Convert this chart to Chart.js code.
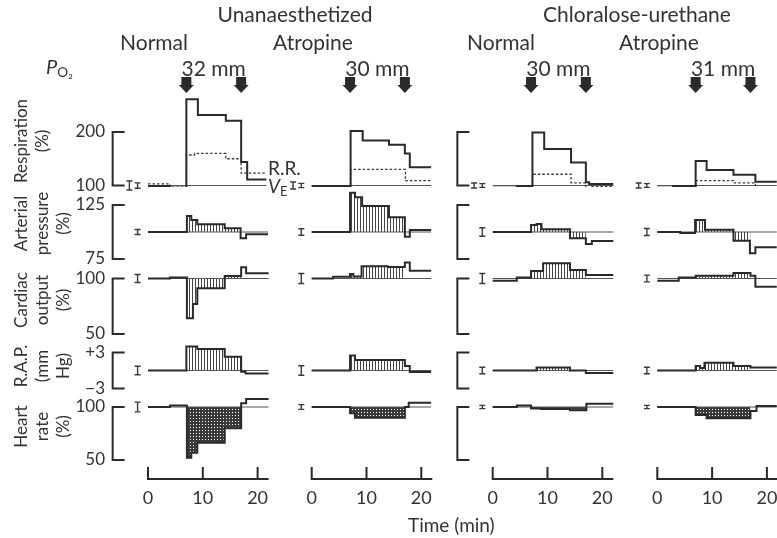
<!DOCTYPE html>
<html><head><meta charset="utf-8">
<script src="https://cdn.jsdelivr.net/npm/chart.js@4.4.1/dist/chart.umd.min.js"></script>
<style>
html,body{margin:0;padding:0;background:#fff;}
#wrap{position:relative;width:777px;height:538px;overflow:hidden;font-family:Lato,"DejaVu Sans",sans-serif;color:#333;}
#c{position:absolute;left:0;top:0;}
.lbl{position:absolute;white-space:nowrap;line-height:1;}
.lbl sub{font-size:0.68em;vertical-align:-0.25em;line-height:0;}
</style></head>
<body><div id="wrap"><canvas id="c" width="777" height="538"></canvas></div>
<script>
// ---------------- data ----------------
const groups = ['Unanaesthetized', 'Chloralose-urethane'];
const columns = ['Normal', 'Atropine', 'Normal', 'Atropine'];
const pressureLabels = ['32 mm', '30 mm', '30 mm', '31 mm'];
const rowTitles = [['Respiration', '(%)'], ['Arterial', 'pressure', '(%)'], ['Cardiac', 'output', '(%)'], ['R.A.P.', '(mm', 'Hg)'], ['Heart', 'rate', '(%)']];
const rowTicks = [[100, 200], [75, 125], [50, 100], [-3, 3], [50, 100]];
const controlLevels = [100, 100, 100, 0, 100];
const timeTicks = [0, 10, 20];
const timeAxisEnd = 22;
const hypoxiaOn = [7, 7, 7, 7];
const hypoxiaOff = [17, 17, 17, 17];

// step traces: breakpoints (min) and level held after each breakpoint
const ventilationTimes = [
  [0, 4, 7, 9.1, 14.2, 17, 18.1, 21.6],
  [0, 7.1, 9.3, 14.1, 17, 17.9, 21.8],
  [0, 4.4, 7.25, 9.4, 14.3, 17, 17.6, 22],
  [0, 2.9, 7, 9, 13.9, 17.9, 21.8]
];
const ventilationValues = [
  [99, 96, 261, 232, 221, 144, 111],
  [99, 202, 184, 176, 160, 134],
  [96, 99, 199, 168, 143, 106, 103],
  [96, 99, 146, 129, 120, 107]
];
const respRateTimes = [
  [0, 4, 7, 8.5, 14.2, 17, 21.6],
  [0, 7.1, 17.1, 21.8],
  [0, 4.4, 7.25, 14.3, 17, 18.1, 22],
  [0, 2.9, 7, 13.9, 17.9, 21.8]
];
const respRateValues = [
  [103, 97, 157, 160, 150, 123],
  [99, 130, 109],
  [96, 99, 121, 105, 88, 98],
  [96, 99, 109, 105, 88]
];
const arterialTimes = [
  [0, 7.1, 7.9, 9, 14, 16.9, 17.9, 21.9],
  [0, 7, 7.9, 9.2, 14.1, 17, 17.9, 21.8],
  [0, 7, 8, 8.9, 14.1, 17, 18.1, 22],
  [0, 4.2, 6.9, 8.7, 13.9, 16.9, 17.9, 21.8]
];
const arterialValues = [
  [100, 114.8, 111.1, 107.1, 103.4, 94.2, 97.9],
  [100, 136.4, 132.1, 124.1, 113.6, 95.6, 101.9],
  [100, 106.5, 107.5, 102.5, 94.2, 89, 91.7],
  [100, 99, 111, 102, 92, 80.3, 85.8]
];
const cardiacTimes = [
  [0, 4, 7.1, 8.2, 9, 14, 17, 17.9, 22],
  [0, 3.9, 7, 7.6, 9.1, 13.9, 17, 17.9, 21.8],
  [0, 4.4, 7, 9.2, 14.1, 17, 22],
  [0, 3.9, 7, 13.9, 17, 17.9, 21.8]
];
const cardiacValues = [
  [100, 101, 64.1, 77, 91.2, 102.3, 110.1, 104.7],
  [100, 101.5, 104, 101.8, 111, 110.4, 114.4, 107],
  [98, 101, 106.8, 113.7, 107.7, 103.2],
  [98, 101, 102.5, 105, 102.5, 92.6]
];
const rapTimes = [
  [0, 7, 9, 14, 17, 17.8, 22],
  [0, 7, 7.9, 17, 17.9, 21.8],
  [0, 8, 14.1, 17, 22],
  [0, 7, 7.8, 8.6, 13.9, 17, 21.8]
];
const rapValues = [
  [0, 4, 3.6, 2.3, -0.2, -0.5],
  [0, 2.5, 1.75, 0.75, -0.25],
  [0, 0.5, 0, -0.4],
  [0, 0.75, 0.4, 1.3, 0.75, 0.5]
];
const heartTimes = [
  [0, 4, 7.1, 7.9, 9, 14, 17, 17.9, 22],
  [0, 7, 7.9, 17, 17.7, 21.8],
  [0, 4.4, 7, 8.8, 14.1, 17.1, 22],
  [0, 7, 9, 17, 18.1, 21.8]
];
const heartValues = [
  [100, 101.5, 52.2, 56.9, 66.3, 79.9, 103.5, 107.5],
  [100, 94.1, 89.9, 100, 104.1],
  [100, 101.5, 98.5, 98, 97, 103],
  [100, 92.5, 89.3, 96.2, 101]
];
// control-period S.E. bars (half heights, in row units)
const semVentilation = [8.4, 6.5, 4.7, 4.7];
const semRespRate = [5, 4, 3.5, 3.5];
const semArterial = [2.3, 3, 4, 3.3];
const semCardiac = [3.6, 4.5, 4.5, 3];
const semRAP = [0.7, 0.8, 0.55, 0.55];
const semHeart = [4.6, 2.2, 1.5, 1.5];

// ---------------- layout / style ----------------
const INK = '#2a2a2a';
const L = {
  top: 95, left: 112, xAxisHeight: 77,
  colEdges: [112, 288, 445, 632, 777],
  colZero: [148, 311.7, 492.7, 657.3],
  pxPerMin: 5.48,
  rowEdges: [95, 187, 260, 340, 392, 461],
  rowRef: [[100, 185.5, 200, 132], [100, 232, 125, 205], [100, 278.5, 50, 334], [0, 370.5, 3, 352.5], [100, 407, 50, 460]],
  bracketTime: -6.45, bracketColumns: [0, 2],
  semTime: -1.9, semTimeVent: -3.4
};

Chart.defaults.font.family = 'Lato, "DejaVu Sans", sans-serif';
Chart.defaults.color = '#333';

function makePattern(w, h, draw) {
  const c = document.createElement('canvas'); c.width = w; c.height = h;
  const g = c.getContext('2d'); draw(g);
  return g.createPattern(c, 'repeat');
}
const hatch = makePattern(3, 3, g => { g.fillStyle = '#444'; g.fillRect(0, 0, 1, 3); });
const stipple = makePattern(3, 3, g => { g.fillStyle = '#3a3a3a'; g.fillRect(0, 0, 3, 3); g.clearRect(1, 1, 1, 1); });

const rowSeries = [
  [{t: ventilationTimes, v: ventilationValues, sem: semVentilation, semT: L.semTimeVent},
   {t: respRateTimes, v: respRateValues, dotted: true, sem: semRespRate, semT: L.semTime}],
  [{t: arterialTimes, v: arterialValues, fill: hatch, sem: semArterial, semT: L.semTime}],
  [{t: cardiacTimes, v: cardiacValues, fill: hatch, sem: semCardiac, semT: L.semTime}],
  [{t: rapTimes, v: rapValues, fill: hatch, sem: semRAP, semT: L.semTime}],
  [{t: heartTimes, v: heartValues, fill: stipple, sem: semHeart, semT: L.semTime}]
];

function stepPoints(times, values) {
  const pts = values.map((v, i) => ({x: times[i], y: v}));
  pts.push({x: times[times.length - 1], y: values[values.length - 1]});
  return pts;
}
function clipSteps(times, values, t0, t1) {
  const pts = []; let end = t0, last = values[0];
  for (let i = 0; i < values.length; i++) {
    const a = Math.max(times[i], t0), b = Math.min(times[i + 1], t1);
    if (b > a) { pts.push({x: a, y: values[i]}); end = b; last = values[i]; }
  }
  pts.push({x: end, y: last});
  return pts;
}

// ---------------- scales ----------------
const scales = {};
for (let c = 0; c < 4; c++) {
  const k = L.pxPerMin;
  scales['x' + c] = {
    type: 'linear', position: 'bottom', stack: 'cols',
    stackWeight: L.colEdges[c + 1] - L.colEdges[c],
    min: (L.colEdges[c] - L.colZero[c]) / k,
    max: (L.colEdges[c + 1] - L.colZero[c]) / k,
    grid: {display: false, drawTicks: true, tickLength: 24},
    border: {display: false},
    afterBuildTicks: s => { s.ticks = timeTicks.map(v => ({value: v})); },
    afterFit: s => { s.height = L.xAxisHeight; s.paddingLeft = 0; s.paddingRight = 0; },
    ticks: {padding: 2, maxRotation: 0, autoSkip: false, font: {size: 18}, color: '#333'}
  };
}
// left stacked axes are laid out in reverse order, so define the bottom row first
for (let r = 4; r >= 0; r--) {
  const [v1, y1, v2, y2] = L.rowRef[r];
  const s = (y2 - y1) / (v2 - v1);
  const top = L.rowEdges[r], bot = L.rowEdges[r + 1];
  scales['y' + r] = {
    type: 'linear', position: 'left', stack: 'rows', stackWeight: bot - top,
    min: v1 + (bot - y1) / s, max: v1 + (top - y1) / s,
    grid: {display: false, drawTicks: false},
    border: {display: false},
    afterBuildTicks: sc => { sc.ticks = rowTicks[r].map(v => ({value: v})); },
    afterFit: sc => { sc.width = L.left; sc.paddingTop = 0; sc.paddingBottom = 0; },
    ticks: {padding: 7, autoSkip: false, font: {size: 17}, color: '#333',
      callback: v => r === 3 ? (v > 0 ? '+' + v : '\u2212' + Math.abs(v)) : String(v)},
    title: {display: true, text: rowTitles[r], color: '#333',
      font: {size: 17, lineHeight: 1.25}, padding: {top: 10.4, bottom: 0}}
  };
}

// ---------------- datasets ----------------
const datasets = [];
for (let c = 0; c < 4; c++) {
  for (let r = 0; r < 5; r++) {
    const ctrl = controlLevels[r];
    const axes = {xAxisID: 'x' + c, yAxisID: 'y' + r};
    const main = rowSeries[r][0];
    const tArr = main.t[c];
    datasets.push(Object.assign({
      label: 'control ' + r + '-' + c,
      data: [{x: tArr[0], y: ctrl}, {x: tArr[tArr.length - 1], y: ctrl}],
      borderColor: '#555', borderWidth: 1, order: 1, fill: false
    }, axes));
    rowSeries[r].forEach((ser, si) => {
      if (ser.fill) {
        datasets.push(Object.assign({
          label: 'fill ' + r + '-' + c,
          data: clipSteps(ser.t[c], ser.v[c], hypoxiaOn[c], hypoxiaOff[c]),
          stepped: true, borderWidth: 0, backgroundColor: ser.fill,
          fill: {value: ctrl}, order: 2
        }, axes));
      }
      datasets.push(Object.assign({
        label: 'trace ' + r + '-' + c + '-' + si,
        data: stepPoints(ser.t[c], ser.v[c]),
        stepped: true, fill: false, borderColor: ser.dotted ? '#3a3a3a' : INK,
        borderWidth: ser.dotted ? 1.3 : 2, borderDash: ser.dotted ? [2.5, 2] : [],
        order: 0
      }, axes));
    });
  }
}

// ---------------- decorations drawn through the scales ----------------
const decorations = {
  id: 'decorations',
  afterDraw(chart) {
    const ctx = chart.ctx, area = chart.chartArea;
    ctx.save();
    ctx.strokeStyle = INK; ctx.fillStyle = INK; ctx.lineCap = 'butt'; ctx.lineJoin = 'miter';
    for (let c = 0; c < 4; c++) {
      const xs = chart.scales['x' + c];
      // time axis
      const ya = area.bottom + 18;
      ctx.lineWidth = 2;
      ctx.beginPath();
      ctx.moveTo(xs.getPixelForValue(0), ya);
      ctx.lineTo(xs.getPixelForValue(timeAxisEnd), ya);
      timeTicks.forEach(t => { const px = xs.getPixelForValue(t); ctx.moveTo(px, ya + 1); ctx.lineTo(px, ya - 12); });
      ctx.stroke();
      // hypoxia arrows
      [hypoxiaOn[c], hypoxiaOff[c]].forEach(t => {
        const x = xs.getPixelForValue(t), top = area.top - 18;
        ctx.beginPath();
        ctx.moveTo(x - 5, top); ctx.lineTo(x + 5, top); ctx.lineTo(x + 5, top + 8);
        ctx.lineTo(x + 7.5, top + 8); ctx.lineTo(x, top + 16); ctx.lineTo(x - 7.5, top + 8);
        ctx.lineTo(x - 5, top + 8); ctx.closePath(); ctx.fill();
      });
      // scale brackets
      if (L.bracketColumns.includes(c)) {
        const bx = xs.getPixelForValue(L.bracketTime);
        ctx.lineWidth = 2;
        for (let r = 0; r < 5; r++) {
          const ys = chart.scales['y' + r];
          const yt = ys.getPixelForValue(Math.max(...rowTicks[r]));
          const yb = ys.getPixelForValue(Math.min(...rowTicks[r]));
          ctx.beginPath();
          ctx.moveTo(bx + 12, yt); ctx.lineTo(bx, yt); ctx.lineTo(bx, yb); ctx.lineTo(bx + 12, yb);
          ctx.stroke();
        }
      }
      // S.E. bars of control period
      ctx.lineWidth = 1.4; ctx.strokeStyle = '#3a3a3a';
      for (let r = 0; r < 5; r++) {
        const ys = chart.scales['y' + r];
        rowSeries[r].forEach(ser => {
          const x = xs.getPixelForValue(ser.semT);
          const y0 = ys.getPixelForValue(controlLevels[r] + ser.sem[c]);
          const y1 = ys.getPixelForValue(controlLevels[r] - ser.sem[c]);
          ctx.beginPath();
          ctx.moveTo(x, y0); ctx.lineTo(x, y1);
          ctx.moveTo(x - 3, y0); ctx.lineTo(x + 3, y0);
          ctx.moveTo(x - 3, y1); ctx.lineTo(x + 3, y1);
          ctx.stroke();
        });
      }
      ctx.strokeStyle = INK;
    }
    ctx.restore();
  }
};

const chart = new Chart(document.getElementById('c'), {
  type: 'line',
  data: {datasets},
  options: {
    responsive: false, animation: false, devicePixelRatio: 1, events: [],
    layout: {padding: {top: L.top, left: 0, right: 0, bottom: 0}},
    elements: {point: {radius: 0, hoverRadius: 0}, line: {tension: 0}},
    plugins: {legend: {display: false}, tooltip: {enabled: false}},
    scales
  },
  plugins: [decorations]
});

// ---------------- text labels (real DOM text) ----------------
const wrap = document.getElementById('wrap');
function placeLabel(spec) {
  const d = document.createElement('div');
  d.className = 'lbl';
  d.style.fontSize = spec.size + 'px';
  if (spec.html) d.innerHTML = spec.html; else d.textContent = spec.text;
  const m = document.createElement('span');
  m.style.cssText = 'display:inline-block;width:0;height:0;';
  d.appendChild(m);
  wrap.appendChild(d);
  const r = d.getBoundingClientRect(), mr = m.getBoundingClientRect();
  const baseOff = mr.top - r.top;
  const left = spec.cx !== undefined ? spec.cx - r.width / 2 : spec.x;
  d.style.left = left + 'px';
  d.style.top = (spec.base - baseOff) + 'px';
}
const groupCenters = [295, 637];
const columnCenters = [154, 313, 501, 659];
groups.forEach((g, i) => placeLabel({text: g, cx: groupCenters[i], base: 22, size: 21}));
columns.forEach((g, i) => placeLabel({text: g, cx: columnCenters[i], base: 50, size: 21}));
pressureLabels.forEach((p, i) => {
  const xs = chart.scales['x' + i];
  placeLabel({text: p, cx: xs.getPixelForValue((hypoxiaOn[i] + hypoxiaOff[i]) / 2), base: 76, size: 21});
});
placeLabel({html: '<i>P</i><sub>O\u2082</sub>', x: 46, base: 74, size: 20});
placeLabel({text: 'Time (min)', x: 408, base: 532, size: 19});
placeLabel({text: 'R.R.', x: chart.scales.x0.getPixelForValue(21.9), base: 175, size: 19});
placeLabel({html: '<i>V</i><sub>E</sub>', x: chart.scales.x0.getPixelForValue(21.9), base: 193, size: 19});
</script></body></html>
